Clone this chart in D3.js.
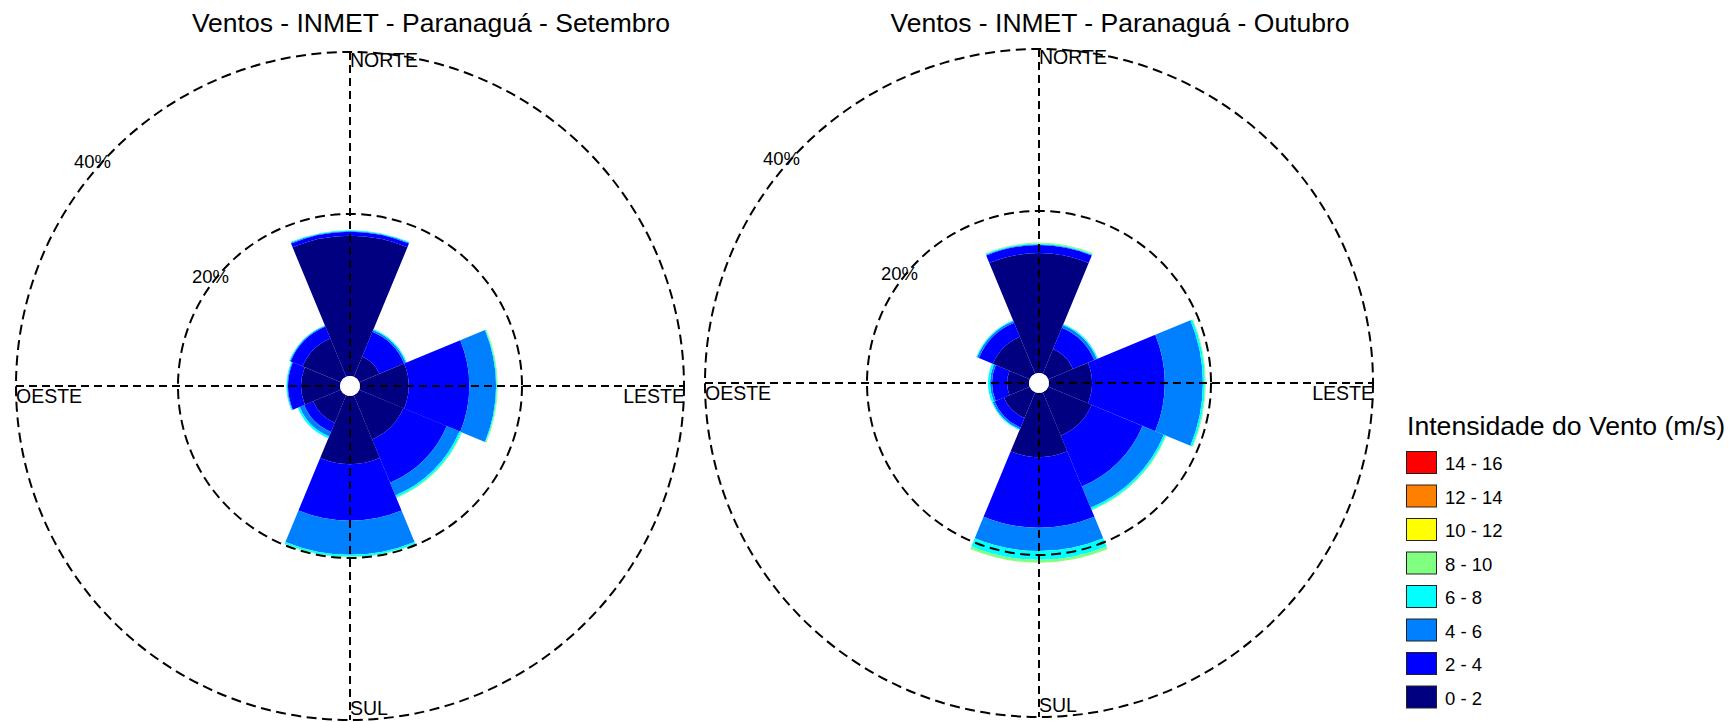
<!DOCTYPE html>
<html>
<head>
<meta charset="utf-8">
<script src="https://cdn.jsdelivr.net/npm/d3@7"></script>
<style>
  html, body { margin: 0; padding: 0; background: #fff; }
  svg { display: block; }
  text { font-family: "Liberation Sans", Arial, sans-serif; fill: #000; }
</style>
</head>
<body>
<svg id="chart" width="1731" height="722"></svg>
<script>
// ---- data ----
const directions = ["N", "NE", "E", "SE", "S", "SW", "W", "NW"];
const directionAngles = [0, 45, 90, 135, 180, 225, 270, 315];
const speedBins = ["0 - 2", "2 - 4", "4 - 6", "6 - 8", "8 - 10", "10 - 12", "12 - 14", "14 - 16"];
const binColors = ["#000080", "#0000FF", "#0080FF", "#00FFFF", "#80FF80", "#FFFF00", "#FF8000", "#FF0000"];
const compassLabels = ["NORTE", "LESTE", "SUL", "OESTE"];
const ringTicks = [20, 40];
const titles = ["Ventos - INMET - Paranaguá - Setembro", "Ventos - INMET - Paranaguá - Outubro"];
const legendTitle = "Intensidade do Vento (m/s)";

// frequency (%) per direction (rows) and speed bin (columns: 0-2 ... 14-16)
const setembro = [
  [17.3, 0.5, 0.1, 0.1, 0, 0, 0, 0],   // N
  [2.7, 3.3, 0.25, 0.12, 0, 0, 0, 0],  // NE
  [6.0, 7.5, 3.3, 0.1, 0.1, 0, 0, 0],  // E
  [5.9, 5.8, 1.7, 0.25, 0.1, 0, 0, 0], // SE
  [8.4, 7.0, 4.2, 0.25, 0.1, 0, 0, 0], // S
  [3.7, 1.2, 0.6, 0.25, 0, 0, 0, 0],   // SW
  [4.8, 1.6, 0.1, 0.1, 0, 0, 0, 0],    // W
  [5.1, 1.6, 0.1, 0.1, 0, 0, 0, 0]     // NW
];
const outubro = [
  [14.8, 1.0, 0.1, 0.1, 0.1, 0, 0, 0],    // N
  [3.3, 2.85, 0.35, 0.15, 0, 0, 0, 0],    // NE
  [5.3, 9.0, 4.7, 0.25, 0.1, 0, 0, 0],    // E
  [5.8, 6.8, 2.85, 0.25, 0.1, 0, 0, 0],   // SE
  [7.9, 8.75, 2.85, 1.1, 0.35, 0, 0, 0],  // S
  [3.45, 1.25, 0.25, 0.1, 0, 0, 0, 0],    // SW
  [2.7, 1.85, 0.25, 0.25, 0, 0, 0, 0],    // W
  [4.95, 1.85, 0.25, 0.1, 0, 0, 0, 0]     // NW
];

// ---- drawing ----
const svg = d3.select("#chart");
const holeR = 10;
const r = d3.scaleLinear().domain([0, 40]).range([holeR, 334]);
const color = d3.scaleOrdinal().domain(speedBins).range(binColors);
const halfSector = Math.PI / 8;
const arc = d3.arc();

const panels = [
  { title: titles[0], data: setembro, cx: 350, cy: 386 },
  { title: titles[1], data: outubro, cx: 1039, cy: 383 }
];

panels.forEach(p => {
  const g = svg.append("g").attr("transform", `translate(${p.cx},${p.cy})`);

  // wedges
  const segs = [];
  p.data.forEach((row, di) => {
    let cum = 0;
    row.forEach((v, bi) => {
      if (v > 0) {
        segs.push({ dir: di, bin: bi, start: cum, end: cum + v });
      }
      cum += v;
    });
  });
  g.selectAll("path.seg").data(segs).join("path")
    .attr("class", "seg")
    .attr("d", d => {
      const a = directionAngles[d.dir] * Math.PI / 180;
      return arc({ innerRadius: r(d.start), outerRadius: r(d.end),
                   startAngle: a - halfSector, endAngle: a + halfSector });
    })
    .attr("fill", d => color(speedBins[d.bin]));

  // dashed rings
  g.selectAll("circle.ring").data(ringTicks).join("circle")
    .attr("class", "ring")
    .attr("r", d => r(d))
    .attr("fill", "none")
    .attr("stroke", "#000")
    .attr("stroke-width", 2)
    .attr("stroke-dasharray", "10,5.5");

  // dashed axes
  const R = r(40);
  g.append("line").attr("x1", 0).attr("x2", 0).attr("y1", -R).attr("y2", R)
    .attr("stroke", "#000").attr("stroke-width", 2).attr("stroke-dasharray", "8,5");
  g.append("line").attr("x1", -R).attr("x2", R).attr("y1", 0).attr("y2", 0)
    .attr("stroke", "#000").attr("stroke-width", 2).attr("stroke-dasharray", "8,5");

  // central hole
  g.append("circle").attr("r", holeR).attr("fill", "#fff");

  // compass labels
  const fs = 19.5;
  g.append("text").attr("x", 0).attr("y", -R + 15).attr("font-size", fs).text(compassLabels[0]);
  g.append("text").attr("x", R + 1).attr("y", 17).attr("font-size", fs).attr("text-anchor", "end").text(compassLabels[1]);
  g.append("text").attr("x", 0).attr("y", R - 5).attr("font-size", fs).text(compassLabels[2]);
  g.append("text").attr("x", -R).attr("y", 17).attr("font-size", fs).text(compassLabels[3]);

  // ring labels
  const ringLabelPos = [[-158, -103], [-276, -218]];
  ringTicks.forEach((t, i) => {
    g.append("text").attr("x", ringLabelPos[i][0]).attr("y", ringLabelPos[i][1])
      .attr("font-size", 18.5).text(t + "%");
  });

  // title
  svg.append("text").attr("x", p.cx + 81).attr("y", 32)
    .attr("text-anchor", "middle").attr("font-size", 26.5).text(p.title);
});

// legend
const lg = svg.append("g").attr("transform", "translate(1406,0)");
lg.append("text").attr("x", 1).attr("y", 435).attr("font-size", 25)
  .attr("textLength", 318).attr("lengthAdjust", "spacingAndGlyphs").text(legendTitle);
const legendItems = speedBins.slice().reverse();
const ly = d3.scaleBand().domain(legendItems).range([451, 451 + 33.5 * legendItems.length]);
lg.selectAll("rect.key").data(legendItems).join("rect")
  .attr("class", "key")
  .attr("x", 0.5).attr("y", d => ly(d) + 0.5)
  .attr("width", 30).attr("height", 22)
  .attr("fill", d => color(d))
  .attr("stroke", "#222").attr("stroke-width", 1);
lg.selectAll("text.key").data(legendItems).join("text")
  .attr("class", "key")
  .attr("x", 39).attr("y", d => ly(d) + 19)
  .attr("font-size", 18.5).text(d => d);
</script>
</body>
</html>
